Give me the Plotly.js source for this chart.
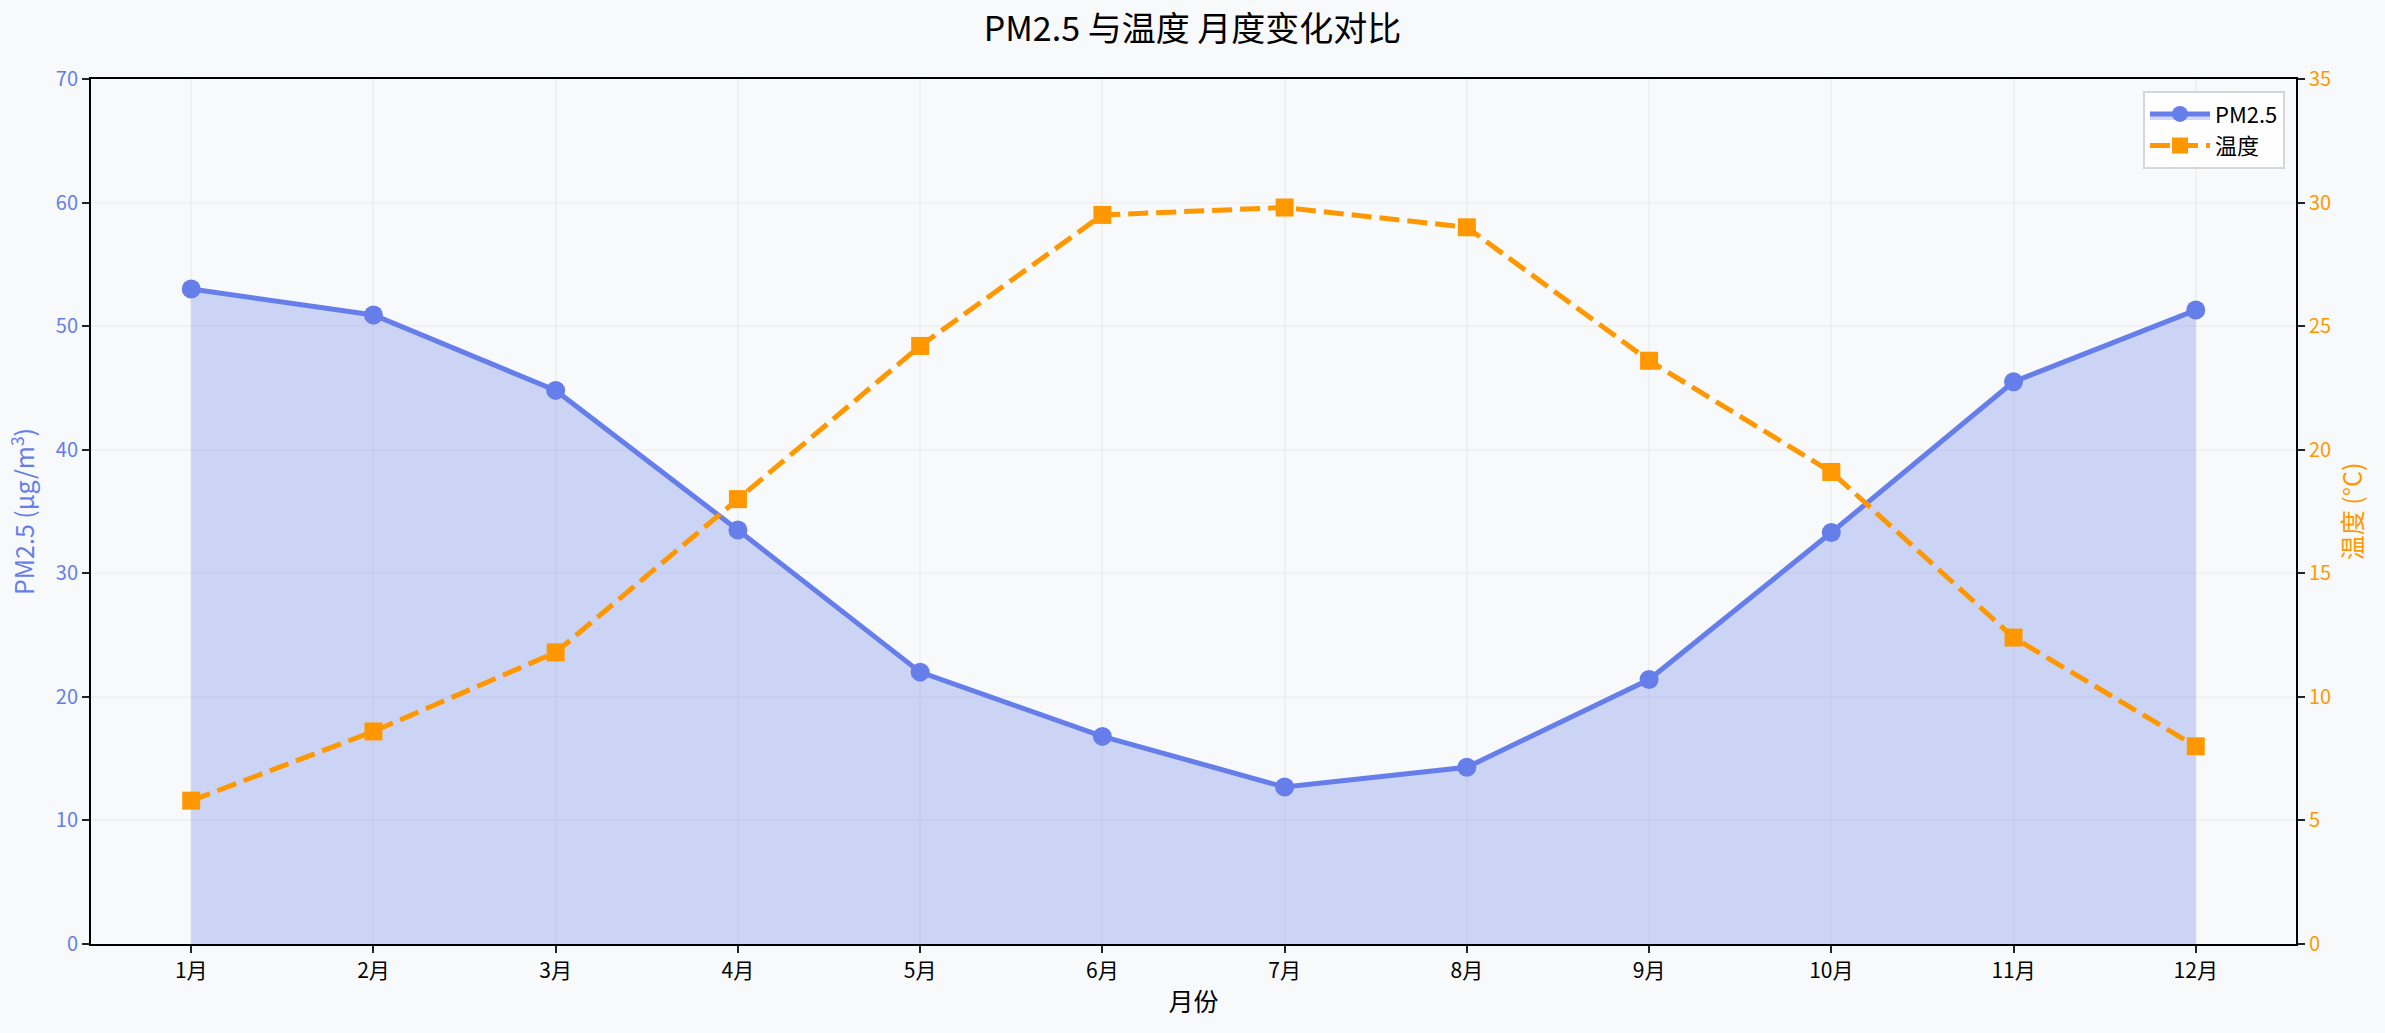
<!DOCTYPE html>
<html>
<head>
<meta charset="utf-8">
<script src="https://cdn.plot.ly/plotly-3.0.1.min.js"></script>
<style>
  html, body { margin: 0; padding: 0; background: #f8f9fa; }
  #myChart { width: 2385px; height: 1033px; }
</style>
</head>
<body>
<div id="myChart"></div>
<script>
// months on the x axis
const months = ["1月", "2月", "3月", "4月", "5月", "6月", "7月", "8月", "9月", "10月", "11月", "12月"];

// PM2.5 (μg/m³), left axis
const pm25 = [53.0, 50.9, 44.8, 33.5, 22.0, 16.8, 12.7, 14.3, 21.4, 33.3, 45.5, 51.3];

// temperature (°C), right axis
const temp = [5.8, 8.6, 11.8, 18.0, 24.2, 29.5, 29.8, 29.0, 23.6, 19.1, 12.4, 8.0];

const blue = "#667eea";
const orange = "#ff9800";
const font_family = "'Noto Sans CJK SC', 'Noto Sans', sans-serif";

const xIdx = months.map(function(m, i) { return i; });

const data = [{
    x: xIdx,
    y: pm25,
    name: "PM2.5",
    mode: "lines+markers",
    fill: "tozeroy",
    fillcolor: "rgba(102,126,234,0.3)",
    line: {color: blue, width: 5},
    marker: {color: blue, size: 19, symbol: "circle"},
    yaxis: "y"
}, {
    x: xIdx,
    y: temp,
    name: "温度",
    mode: "lines+markers",
    line: {color: orange, width: 5, dash: "20px,8px"},
    marker: {color: orange, size: 18, symbol: "square"},
    yaxis: "y2"
}];

const layout = {
    width: 2385,
    height: 1033,
    paper_bgcolor: "#f8f9fa",
    plot_bgcolor: "#f8f9fa",
    font: {family: font_family, size: 21, color: "#000"},
    margin: {l: 91, r: 89, t: 79, b: 89},
    title: {
      text: "PM2.5 与温度 月度变化对比",
      font: {size: 34, color: "#000"},
      x: 0.5,
      xanchor: "center",
      y: 0.972,
      yanchor: "middle"
    },
    showlegend: true,
    legend: {
      x: 0.995, xanchor: "right",
      y: 0.986, yanchor: "top",
      bgcolor: "rgba(255,255,255,0.85)",
      bordercolor: "#d6d6d6",
      borderwidth: 2,
      itemwidth: 60,
      tracegroupgap: 6,
      font: {size: 22}
    },
    xaxis: {
      range: [-0.55, 11.55],
      tickmode: "array",
      tickvals: xIdx,
      ticktext: months,
      showline: true,
      linecolor: "#000",
      linewidth: 2,
      mirror: true,
      ticks: "outside",
      ticklen: 7,
      tickwidth: 2,
      tickcolor: "#222",
      showgrid: true,
      gridcolor: "rgba(200,200,200,0.14)",
      gridwidth: 1.5,
      zeroline: false,
      tickfont: {size: 21, color: "#000"},
      title: {text: "月份", font: {size: 25, color: "#000"}, standoff: 10}
    },
    yaxis: {
      range: [0, 70],
      dtick: 10,
      showline: true,
      linecolor: "#000",
      linewidth: 2,
      ticks: "outside",
      ticklen: 7,
      tickwidth: 2,
      tickcolor: "#222",
      showgrid: true,
      gridcolor: "rgba(200,200,200,0.14)",
      gridwidth: 1.5,
      zeroline: false,
      tickfont: {size: 20, color: blue},
      title: {text: "PM2.5 (μg/m<sup>3</sup>)", font: {size: 25, color: blue}, standoff: 14}
    },
    yaxis2: {
      range: [0, 35],
      dtick: 5,
      overlaying: "y",
      side: "right",
      showline: true,
      linecolor: "#000",
      linewidth: 2,
      ticks: "outside",
      ticklen: 7,
      tickwidth: 2,
      tickcolor: "#222",
      showgrid: false,
      zeroline: false,
      tickfont: {size: 20, color: orange},
      title: {text: "温度 (°C)", font: {size: 25, color: orange}, standoff: 14}
    }
};

const config = {responsive: false, displayModeBar: false};

Plotly.newPlot("myChart", data, layout, config);
</script>
</body>
</html>
